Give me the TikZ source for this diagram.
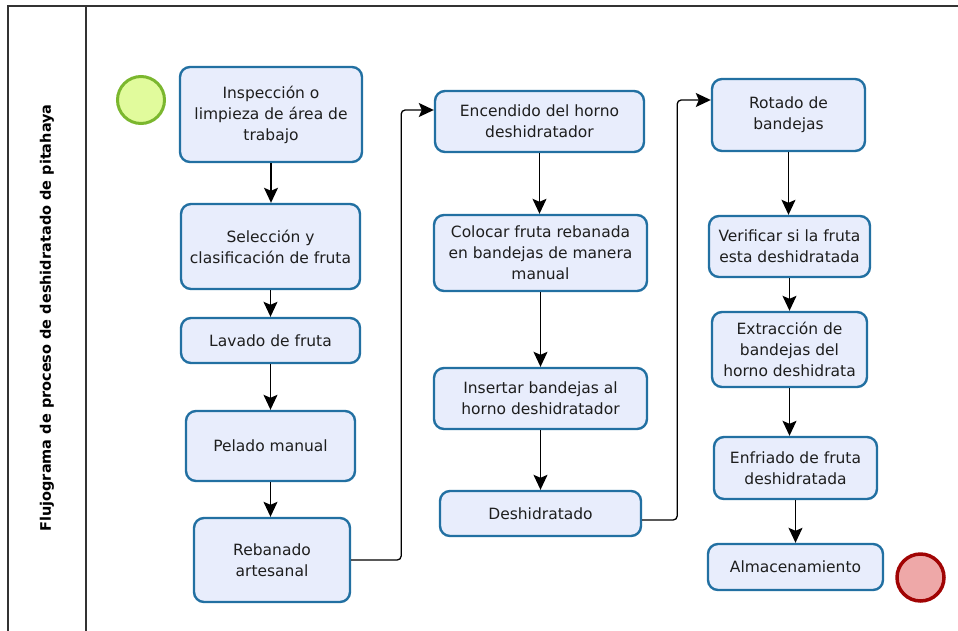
\documentclass[tikz,border=0pt]{standalone}
\usepackage{fontspec}
\setmainfont{DejaVu Sans}
\usetikzlibrary{arrows.meta}

\definecolor{umplere}{HTML}{E8EDFC}
\definecolor{margine}{HTML}{2270A2}
\definecolor{startfill}{HTML}{E1FB9C}
\definecolor{startdraw}{HTML}{7BB72E}
\definecolor{stopfill}{HTML}{EEA8A8}
\definecolor{stopdraw}{HTML}{A10404}
\definecolor{textgri}{HTML}{1E1E1E}

\begin{document}
\begin{tikzpicture}[x=1pt,y=-1pt,
  cutie/.style={draw=margine,line width=2.4pt,fill=umplere,rounded corners=10pt,
    align=center,inner sep=3pt,text=textgri,font=\fontsize{15.5}{21}\selectfont},
  flux/.style={line width=1.3pt,rounded corners=4pt,
    -{Stealth[length=15pt,width=14pt,inset=3pt]}}]
  \useasboundingbox (0,0) rectangle (958,630);

  % cadrul cu titlul
  \draw[line width=1.5pt,black!80] (958,6) -- (8,6) -- (8,632);
  \draw[line width=1.5pt,black!80] (86,6) -- (86,632);
  \node[rotate=90,font=\fontsize{14.5}{17}\bfseries\selectfont] (titlu) at (47,318)
    {Flujograma de proceso de deshidratado de pitahaya};

  % început și sfîrșit
  \node[circle,draw=startdraw,line width=3pt,fill=startfill,minimum size=47pt] (st) at (141,100) {};
  \node[circle,draw=stopdraw,line width=3.5pt,fill=stopfill,minimum size=47pt] (fin) at (920.5,577.5) {};

  % prima coloană
  \node[cutie,minimum width=182pt,minimum height=95pt] (a1) at (271,114.5) {Inspección o\\limpieza de área de\\trabajo};
  \node[cutie,minimum width=179pt,minimum height=85pt] (a2) at (270.5,246.5) {Selección y\\clasificación de fruta};
  \node[cutie,minimum width=179pt,minimum height=45pt] (a3) at (270.5,340.5) {Lavado de fruta};
  \node[cutie,minimum width=169pt,minimum height=70pt] (a4) at (270.5,446) {Pelado manual};
  \node[cutie,minimum width=156pt,minimum height=84pt] (a5) at (272,560) {Rebanado\\artesanal};

  % a doua coloană
  \node[cutie,minimum width=209pt,minimum height=61pt] (b1) at (539.5,121.5) {Encendido del horno\\deshidratador};
  \node[cutie,minimum width=213pt,minimum height=76pt] (b2) at (540.5,253) {Colocar fruta rebanada\\en bandejas de manera\\manual};
  \node[cutie,minimum width=213pt,minimum height=61pt] (b3) at (540.5,398.5) {Insertar bandejas al\\horno deshidratador};
  \node[cutie,minimum width=201pt,minimum height=45pt] (b4) at (540.5,513.5) {Deshidratado};

  % a treia coloană
  \node[cutie,minimum width=153pt,minimum height=72pt] (c1) at (788.5,115) {Rotado de\\bandejas};
  \node[cutie,minimum width=161pt,minimum height=61pt] (c2) at (789.5,246.5) {Verificar si la fruta\\esta deshidratada};
  \node[cutie,minimum width=155pt,minimum height=75pt] (c3) at (789.5,349.5) {Extracción de\\bandejas del\\horno deshidrata};
  \node[cutie,minimum width=163pt,minimum height=62pt] (c4) at (795.5,468) {Enfriado de fruta\\deshidratada};
  \node[cutie,minimum width=175pt,minimum height=46pt] (c5) at (795.5,567) {Almacenamiento};

  % săgețile
  \draw[flux] (a1.south) -- (a1.south |- a2.north);
  \draw[flux] (a2.south) -- (a2.south |- a3.north);
  \draw[flux] (a3.south) -- (a3.south |- a4.north);
  \draw[flux] (a4.south) -- (a4.south |- a5.north);
  \draw[flux] (a5.east) -- ++(50,0) |- ([yshift=11.5pt]b1.west);

  \draw[flux] (b1.south) -- (b1.south |- b2.north);
  \draw[flux] (b2.south) -- (b2.south |- b3.north);
  \draw[flux] (b3.south) -- (b3.south |- b4.north);
  \draw[flux] ([yshift=-6.5pt]b4.east) -- ++(35,0) |- ([yshift=15pt]c1.west);

  \draw[flux] (c1.south) -- (c1.south |- c2.north);
  \draw[flux] (c2.south) -- (c2.south |- c3.north);
  \draw[flux] (c3.south) -- (c3.south |- c4.north);
  \draw[flux] (c4.south) -- (c4.south |- c5.north);
\end{tikzpicture}
\end{document}
